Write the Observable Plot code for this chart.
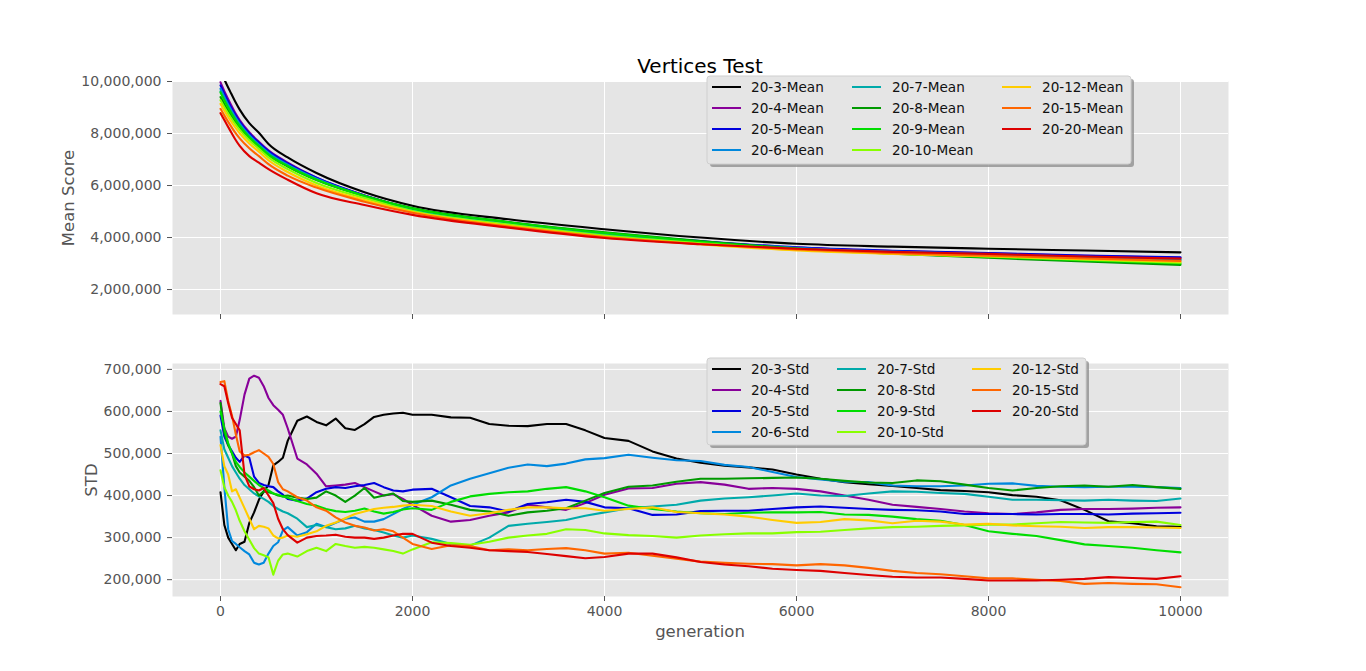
<!DOCTYPE html>
<html>
<head>
<meta charset="utf-8">
<script src="https://cdn.jsdelivr.net/npm/d3@7"></script>
<script src="https://cdn.jsdelivr.net/npm/@observablehq/plot@0.6"></script>
<style>
  html, body { margin: 0; padding: 0; background: #fff; overflow: hidden; }
  #root { position: relative; width: 1366px; height: 671px; font-family: "DejaVu Sans", sans-serif; }
  #root > .panel { position: absolute; left: 0; }
  #overlay { position: absolute; left: 0; top: 0; pointer-events: none; }
</style>
</head>
<body>
<div id="root"></div>
<script>
// ---------------- data ----------------
const seriesIds = ["20-3","20-4","20-5","20-6","20-7","20-8","20-9","20-10","20-12","20-15","20-20"];
const colors = ["#000000","#880099","#0000dd","#0088dd","#00aaaa","#009900","#00dd00","#88ff00","#ffcc00","#ff6600","#dd0000"];
const xTicks = [0, 2000, 4000, 6000, 8000, 10000];
const meanTicks = [2000000, 4000000, 6000000, 8000000, 10000000];
const stdTicks = [200000, 300000, 400000, 500000, 600000, 700000];

// Mean score (millions) sampled at meanGens
const meanGens = [0, 50, 100, 150, 200, 300, 400, 500, 700, 1000, 1500, 2000, 3000, 4000, 5000, 6000, 7000, 8000, 9000, 10000];
const mean3  = [10.45, 10.0, 9.62, 9.25, 8.92, 8.40, 8.03, 7.60, 7.08, 6.48, 5.74, 5.22, 4.70, 4.32, 4.00, 3.76, 3.65, 3.57, 3.50, 3.43];
const mean4  = [9.97, 9.55, 9.17, 8.82, 8.52, 8.05, 7.68, 7.35, 6.88, 6.30, 5.62, 5.10, 4.58, 4.15, 3.85, 3.61, 3.48, 3.39, 3.30, 3.22];
const mean5  = [9.85, 9.45, 9.08, 8.75, 8.46, 8.00, 7.64, 7.32, 6.85, 6.30, 5.62, 5.10, 4.58, 4.15, 3.86, 3.62, 3.49, 3.40, 3.31, 3.24];
const mean6  = [9.72, 9.33, 8.98, 8.66, 8.38, 7.93, 7.58, 7.26, 6.80, 6.26, 5.60, 5.10, 4.57, 4.14, 3.84, 3.60, 3.46, 3.36, 3.26, 3.17];
const mean7  = [9.62, 9.24, 8.90, 8.59, 8.32, 7.88, 7.54, 7.22, 6.77, 6.24, 5.59, 5.08, 4.56, 4.12, 3.82, 3.58, 3.44, 3.33, 3.23, 3.13];
const mean8  = [9.40, 9.06, 8.76, 8.48, 8.23, 7.82, 7.49, 7.17, 6.73, 6.21, 5.60, 5.13, 4.60, 4.20, 3.86, 3.58, 3.38, 3.22, 3.08, 2.95];
const mean9  = [9.58, 9.20, 8.86, 8.56, 8.29, 7.86, 7.52, 7.19, 6.75, 6.22, 5.60, 5.12, 4.59, 4.18, 3.84, 3.57, 3.39, 3.25, 3.12, 3.00];
const mean10 = [9.28, 8.95, 8.65, 8.38, 8.14, 7.74, 7.41, 7.08, 6.63, 6.10, 5.52, 5.02, 4.50, 4.08, 3.78, 3.53, 3.38, 3.27, 3.15, 3.03];
const mean12 = [9.14, 8.82, 8.52, 8.25, 8.01, 7.62, 7.30, 6.97, 6.52, 6.00, 5.44, 4.98, 4.45, 4.03, 3.74, 3.50, 3.37, 3.28, 3.17, 3.07];
const mean15 = [8.95, 8.63, 8.33, 8.05, 7.81, 7.43, 7.13, 6.82, 6.38, 5.92, 5.38, 4.95, 4.42, 4.02, 3.75, 3.54, 3.40, 3.30, 3.20, 3.10];
const mean20 = [8.78, 8.45, 8.12, 7.80, 7.52, 7.13, 6.88, 6.63, 6.22, 5.70, 5.25, 4.87, 4.38, 3.98, 3.74, 3.57, 3.45, 3.37, 3.27, 3.19];

// Std (thousands) sampled at stdGens
const stdGens = [0, 40, 80, 120, 160, 200, 250, 300, 350, 400, 450, 500, 550, 600, 650, 700,
  800, 900, 1000, 1100, 1200, 1300, 1400, 1500, 1600, 1700, 1800, 1900, 2000,
  2200, 2400, 2600, 2800, 3000, 3200, 3400, 3600, 3800, 4000,
  4250, 4500, 4750, 5000, 5250, 5500, 5750, 6000, 6250, 6500, 6750, 7000, 7250, 7500, 7750, 8000,
  8250, 8500, 8750, 9000, 9250, 9500, 9750, 10000];
const std3  = [408, 330, 300, 285, 270, 285, 290, 335, 360, 390, 410, 425, 472, 480, 490, 530,
  578, 588, 575, 567, 583, 560, 556, 570, 587, 592, 595, 597, 592,
  592, 586, 585, 570, 566, 565, 570, 570, 555, 537,
  530, 505, 488, 478, 471, 467, 462, 450, 440, 432, 427, 423, 418, 413, 411, 408,
  401, 397, 389, 366, 339, 334, 327, 326];
const std4  = [625, 560, 540, 535, 540, 580, 640, 678, 685, 680, 660, 632, 615, 604, 592, 560,
  488, 474, 452, 422, 424, 426, 430, 420, 410, 400, 403, 392, 378,
  352, 338, 342, 352, 360, 378, 372, 366, 382, 402,
  417, 418, 428, 432, 426, 416, 418, 416, 410, 400, 390, 378, 373, 368, 362, 358,
  356, 360, 366, 368, 368, 369, 371, 372];
const std5  = [590, 540, 520, 505, 490, 480, 495, 490, 445, 430, 425, 422, 420, 410, 402, 392,
  388, 393, 408, 416, 420, 418, 422, 425, 430, 420, 412, 410, 414,
  416, 396, 375, 372, 362, 380, 384, 390, 385, 372,
  370, 354, 355, 363, 364, 364, 368, 372, 374, 371, 368, 366, 365, 362, 356, 356,
  356, 355, 356, 356, 355, 357, 358, 359];
const std6  = [540, 420, 320, 292, 285, 277, 268, 260, 240, 236, 240, 262, 280, 289, 317, 325,
  305, 313, 333, 325, 335, 345, 348, 338, 338, 344, 356, 368, 378,
  396, 424, 440, 453, 466, 474, 470, 476, 486, 489,
  497, 490, 484, 482, 473, 468, 456, 444, 438, 433, 432, 424, 422, 422, 424, 428,
  429, 423, 421, 420, 421, 421, 420, 418];
const std7  = [555, 510, 490, 470, 455, 440, 425, 415, 405, 398, 392, 385, 375, 368, 362, 358,
  345, 325, 330, 325, 320, 322, 328, 322, 318, 312, 305, 300, 305,
  297, 285, 281, 300, 328, 333, 337, 342, 352, 360,
  370, 374, 378, 388, 393, 396, 400, 405, 400, 399, 405, 410, 409, 406, 404, 397,
  390, 390, 389, 388, 390, 388, 387, 393];
const std8  = [620, 550, 520, 500, 470, 455, 445, 435, 420, 400, 410, 408, 405, 400, 398, 400,
  395, 392, 395, 410, 400, 385, 400, 418, 395, 400, 405, 387, 385,
  388, 378, 366, 362, 352, 360, 364, 370, 388, 406,
  421, 424, 433, 440, 440, 441, 442, 443, 440, 435, 431, 430, 436, 434, 426, 418,
  412, 418, 422, 424, 421, 425, 420, 416];
const std9  = [600, 560, 525, 500, 480, 468, 455, 445, 435, 425, 418, 412, 405, 402, 398, 395,
  387, 380, 376, 368, 363, 361, 364, 369, 362, 357, 361, 367, 370,
  366, 385, 398, 404, 408, 410, 416, 420, 410, 396,
  376, 368, 362, 358, 356, 359, 360, 360, 361, 355, 354, 350, 344, 340, 330, 315,
  309, 304, 294, 284, 280, 276, 270, 265];
const std10 = [460, 420, 400, 385, 365, 340, 315, 295, 275, 262, 258, 253, 212, 245, 260, 262,
  255, 268, 276, 268, 285, 280, 276, 278, 276, 272, 268, 262, 272,
  289, 287, 283, 290, 300, 305, 309, 320, 318, 310,
  306, 304, 300, 305, 308, 310, 310, 313, 314, 318, 322, 325, 326, 328, 329, 331,
  331, 334, 337, 336, 335, 337, 338, 330];
const std12 = [520, 470, 450, 410, 415, 395, 370, 345, 320, 328, 326, 322, 305, 298, 300, 305,
  302, 308, 315, 328, 336, 346, 356, 362, 368, 371, 373, 376, 378,
  375, 362, 352, 358, 366, 372, 372, 370, 370, 364,
  368, 372, 361, 358, 355, 350, 342, 335, 337, 344, 341, 334, 340, 338, 331, 333,
  329, 327, 326, 323, 325, 325, 324, 323];
const std15 = [670, 672, 625, 590, 545, 505, 495, 497, 503, 508, 500, 492, 475, 432, 415, 410,
  396, 388, 372, 364, 348, 336, 328, 324, 317, 320, 315, 300, 285,
  273, 282, 280, 270, 272, 270, 273, 275, 270, 262,
  264, 257, 250, 243, 240, 238, 237, 234, 237, 234, 228, 221, 216, 213, 208, 203,
  203, 200, 197, 190, 192, 190, 189, 182];
const std20 = [665, 660, 620, 585, 570, 555, 450, 422, 415, 412, 418, 400, 382, 345, 320, 306,
  288, 300, 304, 305, 307, 302, 300, 300, 297, 300, 305, 309, 309,
  288, 280, 276, 270, 268, 266, 261, 256, 251, 254,
  262, 262, 253, 242, 236, 232, 226, 223, 221, 216, 211, 207, 205, 205, 202, 198,
  198, 198, 200, 202, 206, 204, 202, 208];

// ---------------- build tables ----------------
const meanSeries = [mean3, mean4, mean5, mean6, mean7, mean8, mean9, mean10, mean12, mean15, mean20];
const stdSeries  = [std3, std4, std5, std6, std7, std8, std9, std10, std12, std15, std20];
const meanNames = seriesIds.map(s => s + "-Mean");
const stdNames  = seriesIds.map(s => s + "-Std");
const meanRows = meanSeries.flatMap((vals, i) => vals.map((v, j) => ({gen: meanGens[j], value: v * 1e6, series: meanNames[i]})));
const stdRows  = stdSeries.flatMap((vals, i) => vals.map((v, j) => ({gen: stdGens[j], value: v * 1e3, series: stdNames[i]})));

const W = 1366;
const ML = 172, MR = 138;
const commonStyle = {fontFamily: "DejaVu Sans", fontSize: "14px", color: "#555555", background: "transparent", overflow: "visible"};
const gridMarks = (ticksX, ticksY) => [
  Plot.frame({fill: "#E5E5E5", stroke: null}),
  Plot.gridX(ticksX, {stroke: "#ffffff", strokeOpacity: 1, strokeWidth: 1}),
  Plot.gridY(ticksY, {stroke: "#ffffff", strokeOpacity: 1, strokeWidth: 1})
];

const meanPlot = Plot.plot({
  width: W, height: 345,
  marginLeft: ML, marginRight: MR, marginTop: 81, marginBottom: 31,
  style: commonStyle,
  x: {domain: [-500, 10500]},
  y: {domain: [1040000, 10000000]},
  color: {domain: meanNames, range: colors},
  marks: [
    ...gridMarks(xTicks, meanTicks),
    Plot.axisX({ticks: xTicks, tickSize: 5, tickFormat: () => "", label: null}),
    Plot.axisY({ticks: meanTicks, tickSize: 5, tickPadding: 6, tickFormat: d3.format(","), label: null}),
    Plot.line(meanRows, {x: "gen", y: "value", z: "series", stroke: "series", strokeWidth: 2.1, curve: "monotone-x", clip: true})
  ]
});

const stdPlot = Plot.plot({
  width: W, height: 326,
  marginLeft: ML, marginRight: MR, marginTop: 18, marginBottom: 75,
  style: commonStyle,
  x: {domain: [-500, 10500]},
  y: {domain: [160000, 714000]},
  color: {domain: stdNames, range: colors},
  marks: [
    ...gridMarks(xTicks, stdTicks),
    Plot.axisX({ticks: xTicks, tickSize: 5, tickPadding: 5, tickFormat: d => String(d), label: null}),
    Plot.axisY({ticks: stdTicks, tickSize: 5, tickPadding: 6, tickFormat: d3.format(","), label: null}),
    Plot.line(stdRows, {x: "gen", y: "value", z: "series", stroke: "series", strokeWidth: 2.1, strokeLinejoin: "round", clip: true})
  ]
});

const root = document.getElementById("root");
meanPlot.classList.add("panel"); meanPlot.style.top = "0px";
stdPlot.classList.add("panel"); stdPlot.style.top = "345px";
root.appendChild(meanPlot);
root.appendChild(stdPlot);

// ---------------- overlay: title, axis labels, legends ----------------
const ov = d3.select(root).append("svg").attr("id", "overlay")
  .attr("width", W).attr("height", 671)
  .style("font-family", "DejaVu Sans");

ov.append("text").attr("x", 700).attr("y", 73).attr("text-anchor", "middle")
  .attr("font-size", 20).attr("fill", "#000").text("Vertices Test");
ov.append("text").attr("transform", "translate(74,198) rotate(-90)").attr("text-anchor", "middle")
  .attr("font-size", 16.5).attr("fill", "#555").text("Mean Score");
ov.append("text").attr("transform", "translate(97,480) rotate(-90)").attr("text-anchor", "middle")
  .attr("font-size", 16.5).attr("fill", "#555").text("STD");
ov.append("text").attr("x", 700).attr("y", 637).attr("text-anchor", "middle")
  .attr("font-size", 16.5).attr("fill", "#555").text("generation");

function legend(x0, y0, w, h, names, lineX, textX) {
  const g = ov.append("g").attr("transform", `translate(${x0},${y0})`);
  g.append("rect").attr("x", 3).attr("y", 3).attr("width", w).attr("height", h).attr("rx", 3)
    .attr("fill", "#8a8a8a").attr("fill-opacity", 0.75);
  g.append("rect").attr("x", 0).attr("y", 0).attr("width", w).attr("height", h).attr("rx", 3)
    .attr("fill", "#e5e5e5").attr("stroke", "#cfcfcf").attr("stroke-width", 1);
  const rows = 4;
  names.forEach((name, i) => {
    const c = Math.floor(i / rows), r = i % rows;
    const cy = 11 + r * 21;
    g.append("line").attr("x1", lineX[c]).attr("x2", lineX[c] + 29).attr("y1", cy).attr("y2", cy)
      .attr("stroke", colors[i]).attr("stroke-width", 2);
    g.append("text").attr("x", textX[c]).attr("y", cy).attr("dy", "0.36em")
      .attr("font-size", 13.6).attr("fill", "#111").text(name);
  });
}
legend(707, 76, 424, 88, meanNames, [5, 145, 295], [44, 185, 335]);
legend(707, 358, 379, 87, stdNames, [5, 130, 265], [44, 170, 305]);
</script>
</body>
</html>
